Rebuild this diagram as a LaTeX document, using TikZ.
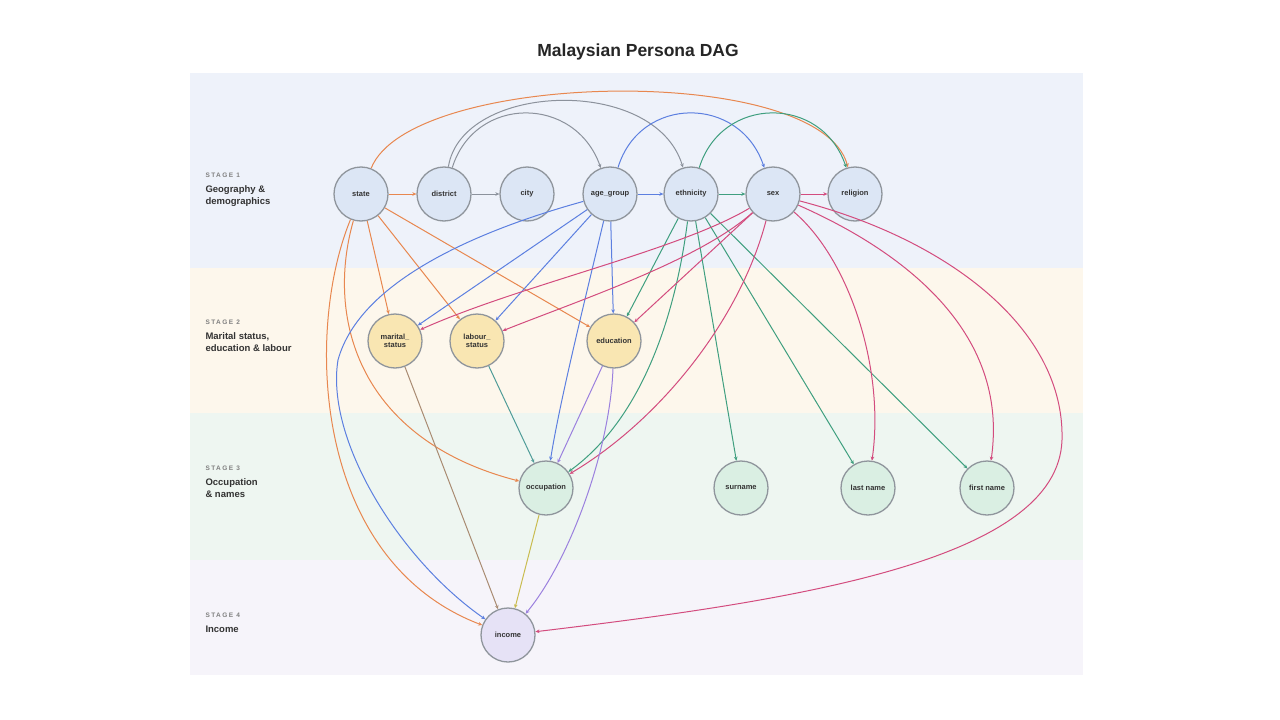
\documentclass[tikz,border=0pt]{standalone}
\usepackage{fontspec}
\setmainfont{Liberation Sans}
\usetikzlibrary{arrows.meta}

\definecolor{bandone}{HTML}{EEF2FA}
\definecolor{bandtwo}{HTML}{FDF7EC}
\definecolor{bandthree}{HTML}{EEF6F1}
\definecolor{bandfour}{HTML}{F6F4FA}
\definecolor{fillone}{HTML}{DCE6F5}
\definecolor{filltwo}{HTML}{F9E6B2}
\definecolor{fillthree}{HTML}{DAEFE3}
\definecolor{fillfour}{HTML}{E6E2F6}
\definecolor{nodeline}{HTML}{8F959C}
\definecolor{cstate}{HTML}{E8874F}
\definecolor{cdist}{HTML}{8C929C}
\definecolor{cage}{HTML}{5C7FE0}
\definecolor{ceth}{HTML}{3F9F7F}
\definecolor{csex}{HTML}{D34C7E}
\definecolor{cmar}{HTML}{A98B72}
\definecolor{clab}{HTML}{4F9C98}
\definecolor{cedu}{HTML}{9B80DE}
\definecolor{cocc}{HTML}{C9BC50}

\begin{document}
\begin{tikzpicture}[x=1pt,y=-1pt,line width=1pt,
	every node/.style={font=\fontsize{7.5}{8.5}\selectfont\bfseries,text=black!80},
	var/.style={circle,draw=nodeline,line width=1.3pt,minimum size=54pt,inner sep=0pt,align=center},
	sone/.style={var,fill=fillone},
	stwo/.style={var,fill=filltwo},
	sthree/.style={var,fill=fillthree},
	sfour/.style={var,fill=fillfour},
	edge/.style={-{Stealth[length=4pt,width=3.6pt]}},
	stagetag/.style={anchor=west,inner xsep=0pt,text=black!50,font=\fontsize{6.5}{7}\selectfont\bfseries\addfontfeature{LetterSpace=22}},
	stagename/.style={anchor=north west,inner xsep=0pt,align=left,text=black!80,font=\fontsize{9.5}{11.5}\selectfont\bfseries}]
	
	\fill[white] (0,0) rectangle (1280,720);
	\useasboundingbox (0,0) rectangle (1280,720);
	
	% stage bands
	\fill[bandone] (190,73) rectangle (1083,268);
	\fill[bandtwo] (190,268) rectangle (1083,413);
	\fill[bandthree] (190,413) rectangle (1083,560);
	\fill[bandfour] (190,560) rectangle (1083,675);
	
	\node[font=\fontsize{17.5}{20}\selectfont\bfseries,text=black!85] at (638,52) (title) {Malaysian Persona DAG};
	
	\node[stagetag] at (205,175) (tag1) {STAGE 1};
	\node[stagename] at (205,182) (name1) {Geography \&\\demographics};
	\node[stagetag] at (205,322) (tag2) {STAGE 2};
	\node[stagename] at (205,329) (name2) {Marital status,\\education \& labour};
	\node[stagetag] at (205,468) (tag3) {STAGE 3};
	\node[stagename] at (205,475) (name3) {Occupation\\\& names};
	\node[stagetag] at (205,615) (tag4) {STAGE 4};
	\node[stagename] at (205,622) (name4) {Income};
	
	% variables
	\node[sone] at (361,194) (state) {state};
	\node[sone] at (444,194) (district) {district};
	\node[sone] at (527,194) (city) {city};
	\node[sone] at (610,194) (age) {age\_group};
	\node[sone] at (691,194) (ethnicity) {ethnicity};
	\node[sone] at (773,194) (sex) {sex};
	\node[sone] at (855,194) (religion) {religion};
	
	\node[stwo] at (395,341) (marital) {marital\_\\status};
	\node[stwo] at (477,341) (labour) {labour\_\\status};
	\node[stwo] at (614,341) (education) {education};
	
	\node[sthree] at (546,488) (occupation) {occupation};
	\node[sthree] at (741,488) (surname) {surname};
	\node[sthree] at (868,488) (lastname) {last name};
	\node[sthree] at (987,488) (firstname) {first name};
	
	\node[sfour] at (508,635) (income) {income};
	
	% state
	\draw[edge,cstate] (state) -- (district);
	\draw[edge,cstate] (state) .. controls (410,70) and (820,62) .. (religion);
	\draw[edge,cstate] (state) -- (marital);
	\draw[edge,cstate] (state) -- (labour);
	\draw[edge,cstate] (state) -- (education);
	\draw[edge,cstate] (state) .. controls (325,320) and (360,440) .. (occupation);
	\draw[edge,cstate] (state) .. controls (305,330) and (312,560) .. (income);
	
	% district
	\draw[edge,cdist] (district) -- (city);
	\draw[edge,cdist] (district) .. controls (475,95) and (575,95) .. (age);
	\draw[edge,cdist] (district) .. controls (462,82) and (655,75) .. (ethnicity);
	
	% age_group
	\draw[edge,cage] (age) -- (ethnicity);
	\draw[edge,cage] (age) .. controls (640,95) and (740,95) .. (sex);
	\draw[edge,cage] (age) -- (marital);
	\draw[edge,cage] (age) -- (labour);
	\draw[edge,cage] (age) -- (education);
	\draw[edge,cage] (age) .. controls (585,300) and (560,400) .. (occupation);
	\draw[edge,cage] (age) .. controls (480,230) and (360,280) .. (338,360)
		.. controls (325,440) and (400,560) .. (income);
	
	% ethnicity
	\draw[edge,ceth] (ethnicity) -- (sex);
	\draw[edge,ceth] (ethnicity) .. controls (722,95) and (822,95) .. (religion);
	\draw[edge,ceth] (ethnicity) -- (education);
	\draw[edge,ceth] (ethnicity) .. controls (675,320) and (640,420) .. (occupation);
	\draw[edge,ceth] (ethnicity) -- (surname);
	\draw[edge,ceth] (ethnicity) -- (lastname);
	\draw[edge,ceth] (ethnicity) -- (firstname);
	
	% sex
	\draw[edge,csex] (sex) -- (religion);
	\draw[edge,csex] (sex) .. controls (680,250) and (520,285) .. (marital);
	\draw[edge,csex] (sex) .. controls (700,260) and (580,300) .. (labour);
	\draw[edge,csex] (sex) -- (education);
	\draw[edge,csex] (sex) .. controls (740,320) and (660,420) .. (occupation);
	\draw[edge,csex] (sex) .. controls (850,260) and (885,370) .. (lastname);
	\draw[edge,csex] (sex) .. controls (900,250) and (1010,330) .. (firstname);
	\draw[edge,csex] (sex) .. controls (950,240) and (1065,330) .. (1062,440)
		.. controls (1058,560) and (800,600) .. (income);
	
	% stage 2 and 3
	\draw[edge,cmar] (marital) -- (income);
	\draw[edge,clab] (labour) -- (occupation);
	\draw[edge,cedu] (education) -- (occupation);
	\draw[edge,cedu] (education) .. controls (610,450) and (570,560) .. (income);
	\draw[edge,cocc] (occupation) -- (income);
\end{tikzpicture}
\end{document}
